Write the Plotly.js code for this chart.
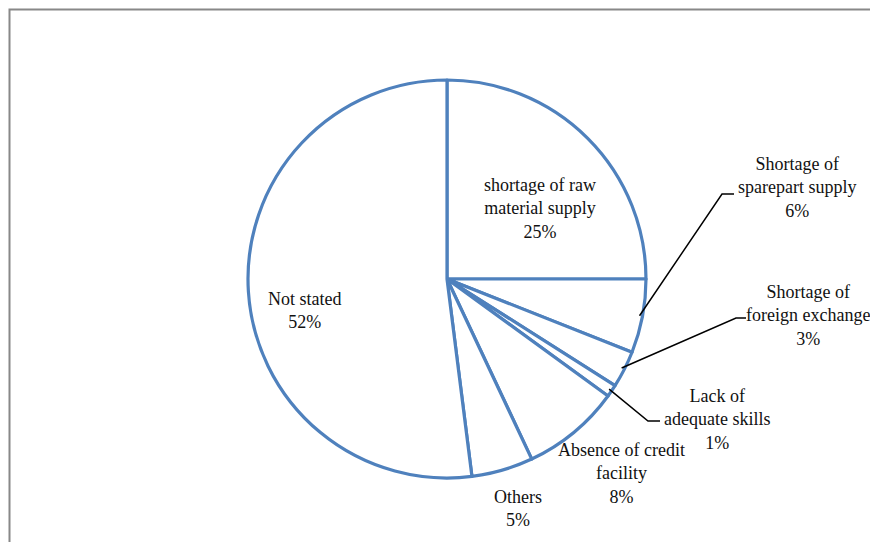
<!DOCTYPE html>
<html>
<head>
<meta charset="utf-8">
<script src="https://cdn.plot.ly/plotly-3.0.1.min.js"></script>
<style>
  html, body { margin: 0; padding: 0; background: #fff; }
  #chart { width: 870px; height: 542px; }
</style>
</head>
<body>
<div id="chart"></div>
<script>
// Constraints reported by firms (share of responses, %)
const categories = [
  'shortage of raw material supply',
  'Shortage of sparepart supply',
  'Shortage of foreign exchange',
  'Lack of adequate skills',
  'Absence of credit facility',
  'Others',
  'Not stated'
];
const shares = [25, 6, 3, 1, 8, 5, 52];
const labelLines = [
  'shortage of raw<br>material supply',
  'Shortage of<br>sparepart supply',
  'Shortage of<br>foreign exchange',
  'Lack of<br>adequate skills',
  'Absence of credit<br>facility',
  'Others',
  'Not stated'
];

// ---- layout geometry (pixels) ----
const W = 870, H = 542;
const CX = 447, CY = 279, R = 199;          // pie centre and radius
const BLUE = '#4F81BD';
const SERIF = 'Liberation Serif';

// label anchor points (text centre) and, for outside labels, the leader elbow
const labelPos = [
  [540, 208], [797, 187], [808, 315], [717, 419], [621, 473], [518, 508], [305, 310]
];
const elbows = [
  null, [[722, 194], [734, 194]], [[736, 318], [746, 318]],
  [[648, 421], [660, 421]], null, null, null
];

const px = x => x / W;
const py = y => 1 - y / H;

const total = shares.reduce((a, b) => a + b, 0);

// mid-angle of each slice, clockwise from 12 o'clock
const midAngles = [];
let acc = 0;
shares.forEach(v => {
  midAngles.push((acc + v / 2) / total * 2 * Math.PI);
  acc += v;
});

const annotations = categories.map((c, i) => ({
  xref: 'paper', yref: 'paper',
  x: px(labelPos[i][0]), y: py(labelPos[i][1]),
  xanchor: 'center', yanchor: 'middle',
  text: labelLines[i] + '<br>' + shares[i] + '%',
  showarrow: false,
  align: 'center',
  font: { family: SERIF, size: 18, color: '#111' }
}));

const shapes = [
  // chart frame
  {
    type: 'rect', xref: 'paper', yref: 'paper',
    x0: px(9.5), x1: px(W + 20), y0: py(H + 20), y1: py(9.5),
    line: { color: '#888888', width: 2 }, fillcolor: 'rgba(0,0,0,0)', layer: 'below'
  }
];

elbows.forEach((e, i) => {
  if (!e) return;
  const a = midAngles[i];
  const sx = CX + (R - 3) * Math.sin(a);
  const sy = CY - (R - 3) * Math.cos(a);
  shapes.push({
    type: 'path', xref: 'paper', yref: 'paper',
    path: `M ${px(sx)} ${py(sy)} L ${px(e[0][0])} ${py(e[0][1])} L ${px(e[1][0])} ${py(e[1][1])}`,
    line: { color: '#000', width: 1.5 }, layer: 'above'
  });
});

const trace = {
  type: 'pie',
  labels: categories,
  values: shares,
  sort: false,
  direction: 'clockwise',
  rotation: 0,
  textinfo: 'none',
  hoverinfo: 'label+percent',
  marker: {
    colors: categories.map(() => '#ffffff'),
    line: { color: BLUE, width: 3.2 }
  },
  domain: {
    x: [px(CX - R), px(CX + R)],
    y: [py(CY + R), py(CY - R)]
  },
  showlegend: false
};

const layout = {
  width: W, height: H,
  margin: { l: 0, r: 0, t: 0, b: 0 },
  paper_bgcolor: '#fff',
  font: { family: SERIF },
  showlegend: false,
  annotations: annotations,
  shapes: shapes
};

Plotly.newPlot('chart', [trace], layout, { displayModeBar: false, staticPlot: true });
</script>
</body>
</html>
